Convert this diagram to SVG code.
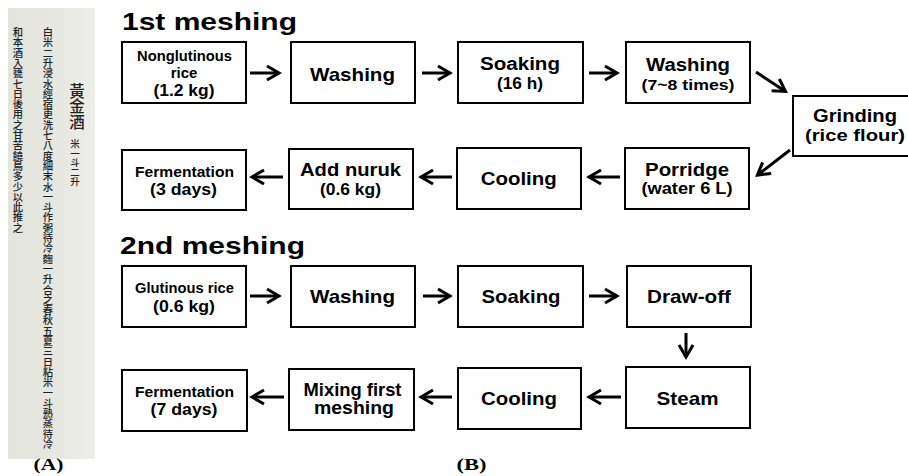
<svg xmlns="http://www.w3.org/2000/svg" width="908" height="476" viewBox="0 0 908 476">
  <defs>
    <linearGradient id="paper" x1="0" y1="0" x2="1" y2="0">
      <stop offset="0" stop-color="#e3e5dd"/>
      <stop offset="0.55" stop-color="#e6e7e0"/>
      <stop offset="1" stop-color="#eeeeea"/>
    </linearGradient>
    <marker id="arr" markerUnits="userSpaceOnUse" viewBox="0 0 16 16" markerWidth="16" markerHeight="16" refX="13" refY="8" orient="auto" overflow="visible">
      <path d="M1,1 L13,8 L1,15" fill="none" stroke="#000" stroke-width="3"/>
    </marker>
    <style>
      .box { fill: #fff; stroke: #000; stroke-width: 2; }
      .lbl { font-family: "Liberation Sans", Arial, sans-serif; font-weight: bold; text-anchor: middle; fill: #000; }
      .title { font-family: "Liberation Sans", Arial, sans-serif; font-weight: bold; fill: #000; font-size: 24px; }
      .conn line { stroke: #000; stroke-width: 3; marker-end: url(#arr); }
      .cap { font-family: "Liberation Serif", "Times New Roman", serif; font-weight: bold; font-size: 16px; text-anchor: middle; fill: #000; }
      .hand { font-family: "Noto Sans CJK TC", "Noto Sans CJK SC", sans-serif; font-weight: 500; fill: #222; writing-mode: vertical-rl; text-orientation: upright; }
    </style>
  </defs>

  <rect width="908" height="476" fill="#fff"/>

  <!-- (A) manuscript page: three hand-written columns, read right to left -->
  <g id="manuscript">
    <rect x="8" y="8" width="87" height="451" fill="url(#paper)"/>
    <text class="hand" x="77" y="83" font-size="15.5">黃金酒</text>
    <text class="hand" x="75" y="139" font-size="9.5">米一斗二升</text>
    <text class="hand" x="48" y="27" font-size="10.3">白米二升浸水經宿更洗七八度細末水一斗作粥待冷麴一升合之春秋五夏三日粘米一斗熟蒸待冷</text>
    <text class="hand" x="18" y="27" font-size="10.3">和本酒入甕七日後用之甘苦饒鳥多少以此推之</text>
  </g>
  <text class="cap" x="48.5" y="470" textLength="30" lengthAdjust="spacingAndGlyphs">(A)</text>

  <!-- (B) process flow -->
  <text class="title" x="122" y="30" textLength="175" lengthAdjust="spacingAndGlyphs">1st meshing</text>
  <text class="title" x="120" y="254" textLength="185" lengthAdjust="spacingAndGlyphs">2nd meshing</text>

  <g id="m1-rice">
    <rect class="box" x="122" y="42" width="124" height="61"/>
    <text class="lbl" x="184.5" y="61" font-size="15" textLength="95" lengthAdjust="spacingAndGlyphs">Nonglutinous</text>
    <text class="lbl" x="184" y="78" font-size="15">rice</text>
    <text class="lbl" x="184" y="96" font-size="16" textLength="61" lengthAdjust="spacingAndGlyphs">(1.2 kg)</text>
  </g>
  <g id="m1-washing">
    <rect class="box" x="291" y="42" width="124" height="61"/>
    <text class="lbl" x="352.5" y="80.5" font-size="19" textLength="85" lengthAdjust="spacingAndGlyphs">Washing</text>
  </g>
  <g id="m1-soaking">
    <rect class="box" x="458" y="42" width="125" height="61"/>
    <text class="lbl" x="520" y="70" font-size="18" textLength="80" lengthAdjust="spacingAndGlyphs">Soaking</text>
    <text class="lbl" x="520" y="89" font-size="16" textLength="46" lengthAdjust="spacingAndGlyphs">(16 h)</text>
  </g>
  <g id="m1-washing2">
    <rect class="box" x="626" y="42" width="124" height="61"/>
    <text class="lbl" x="688" y="70.5" font-size="18" textLength="84" lengthAdjust="spacingAndGlyphs">Washing</text>
    <text class="lbl" x="688" y="90" font-size="15" textLength="93" lengthAdjust="spacingAndGlyphs">(7~8 times)</text>
  </g>
  <g id="m1-grinding">
    <rect class="box" x="793" y="96" width="124" height="60"/>
    <text class="lbl" x="855" y="121.5" font-size="18" textLength="84" lengthAdjust="spacingAndGlyphs">Grinding</text>
    <text class="lbl" x="855" y="140.5" font-size="17" textLength="100" lengthAdjust="spacingAndGlyphs">(rice flour)</text>
  </g>
  <g id="m1-porridge">
    <rect class="box" x="625" y="148" width="124" height="61"/>
    <text class="lbl" x="687" y="175.5" font-size="18" textLength="84" lengthAdjust="spacingAndGlyphs">Porridge</text>
    <text class="lbl" x="687" y="194" font-size="16" textLength="91" lengthAdjust="spacingAndGlyphs">(water 6 L)</text>
  </g>
  <g id="m1-cooling">
    <rect class="box" x="457" y="148" width="124" height="61"/>
    <text class="lbl" x="518.7" y="185" font-size="18" textLength="76" lengthAdjust="spacingAndGlyphs">Cooling</text>
  </g>
  <g id="m1-nuruk">
    <rect class="box" x="289" y="149" width="124" height="60"/>
    <text class="lbl" x="350.5" y="176" font-size="18" textLength="101" lengthAdjust="spacingAndGlyphs">Add nuruk</text>
    <text class="lbl" x="350.5" y="195" font-size="17" textLength="61" lengthAdjust="spacingAndGlyphs">(0.6 kg)</text>
  </g>
  <g id="m1-fermentation">
    <rect class="box" x="122" y="150" width="124" height="60"/>
    <text class="lbl" x="184.5" y="176.5" font-size="15" textLength="99" lengthAdjust="spacingAndGlyphs">Fermentation</text>
    <text class="lbl" x="183.5" y="195" font-size="17" textLength="67" lengthAdjust="spacingAndGlyphs">(3 days)</text>
  </g>

  <g id="m2-rice">
    <rect class="box" x="122" y="266" width="124" height="61"/>
    <text class="lbl" x="184.5" y="292.5" font-size="15" textLength="99" lengthAdjust="spacingAndGlyphs">Glutinous rice</text>
    <text class="lbl" x="184" y="311.5" font-size="17" textLength="62" lengthAdjust="spacingAndGlyphs">(0.6 kg)</text>
  </g>
  <g id="m2-washing">
    <rect class="box" x="291" y="266" width="124" height="61"/>
    <text class="lbl" x="352.5" y="303.3" font-size="19" textLength="85" lengthAdjust="spacingAndGlyphs">Washing</text>
  </g>
  <g id="m2-soaking">
    <rect class="box" x="458" y="266" width="125" height="61"/>
    <text class="lbl" x="521" y="303.3" font-size="19" textLength="79" lengthAdjust="spacingAndGlyphs">Soaking</text>
  </g>
  <g id="m2-drawoff">
    <rect class="box" x="627" y="266" width="124" height="61"/>
    <text class="lbl" x="689" y="303.3" font-size="19" textLength="84" lengthAdjust="spacingAndGlyphs">Draw-off</text>
  </g>
  <g id="m2-steam">
    <rect class="box" x="626" y="367" width="124" height="61"/>
    <text class="lbl" x="687.5" y="405" font-size="19" textLength="62" lengthAdjust="spacingAndGlyphs">Steam</text>
  </g>
  <g id="m2-cooling">
    <rect class="box" x="458" y="368" width="123" height="61"/>
    <text class="lbl" x="519" y="405" font-size="19" textLength="76" lengthAdjust="spacingAndGlyphs">Cooling</text>
  </g>
  <g id="m2-mixing">
    <rect class="box" x="289" y="369" width="125" height="61"/>
    <text class="lbl" x="352.5" y="395.5" font-size="18" textLength="98" lengthAdjust="spacingAndGlyphs">Mixing first</text>
    <text class="lbl" x="354" y="414" font-size="18" textLength="80" lengthAdjust="spacingAndGlyphs">meshing</text>
  </g>
  <g id="m2-fermentation">
    <rect class="box" x="122" y="370" width="125" height="61"/>
    <text class="lbl" x="184.5" y="396.5" font-size="15" textLength="99" lengthAdjust="spacingAndGlyphs">Fermentation</text>
    <text class="lbl" x="184" y="415" font-size="17" textLength="67" lengthAdjust="spacingAndGlyphs">(7 days)</text>
  </g>

  <g id="connectors" class="conn">
    <!-- 1st meshing -->
    <line x1="250" y1="73" x2="279" y2="73"/>
    <line x1="422" y1="73" x2="450" y2="73"/>
    <line x1="589" y1="73" x2="617" y2="73"/>
    <line x1="756" y1="72" x2="785.5" y2="91.4"/>
    <line x1="790" y1="150" x2="757.4" y2="175.2"/>
    <line x1="620" y1="177" x2="589" y2="177"/>
    <line x1="452" y1="177" x2="421" y2="177"/>
    <line x1="283" y1="177" x2="252" y2="177"/>
    <!-- 2nd meshing -->
    <line x1="250" y1="296" x2="279" y2="296"/>
    <line x1="423" y1="296" x2="450" y2="296"/>
    <line x1="589" y1="296" x2="617" y2="296"/>
    <line x1="686" y1="333" x2="686" y2="357"/>
    <line x1="621" y1="397" x2="589" y2="397"/>
    <line x1="452" y1="397" x2="421" y2="397"/>
    <line x1="284" y1="397" x2="252" y2="397"/>
  </g>

  <text class="cap" x="471.5" y="470" textLength="30" lengthAdjust="spacingAndGlyphs">(B)</text>
</svg>
